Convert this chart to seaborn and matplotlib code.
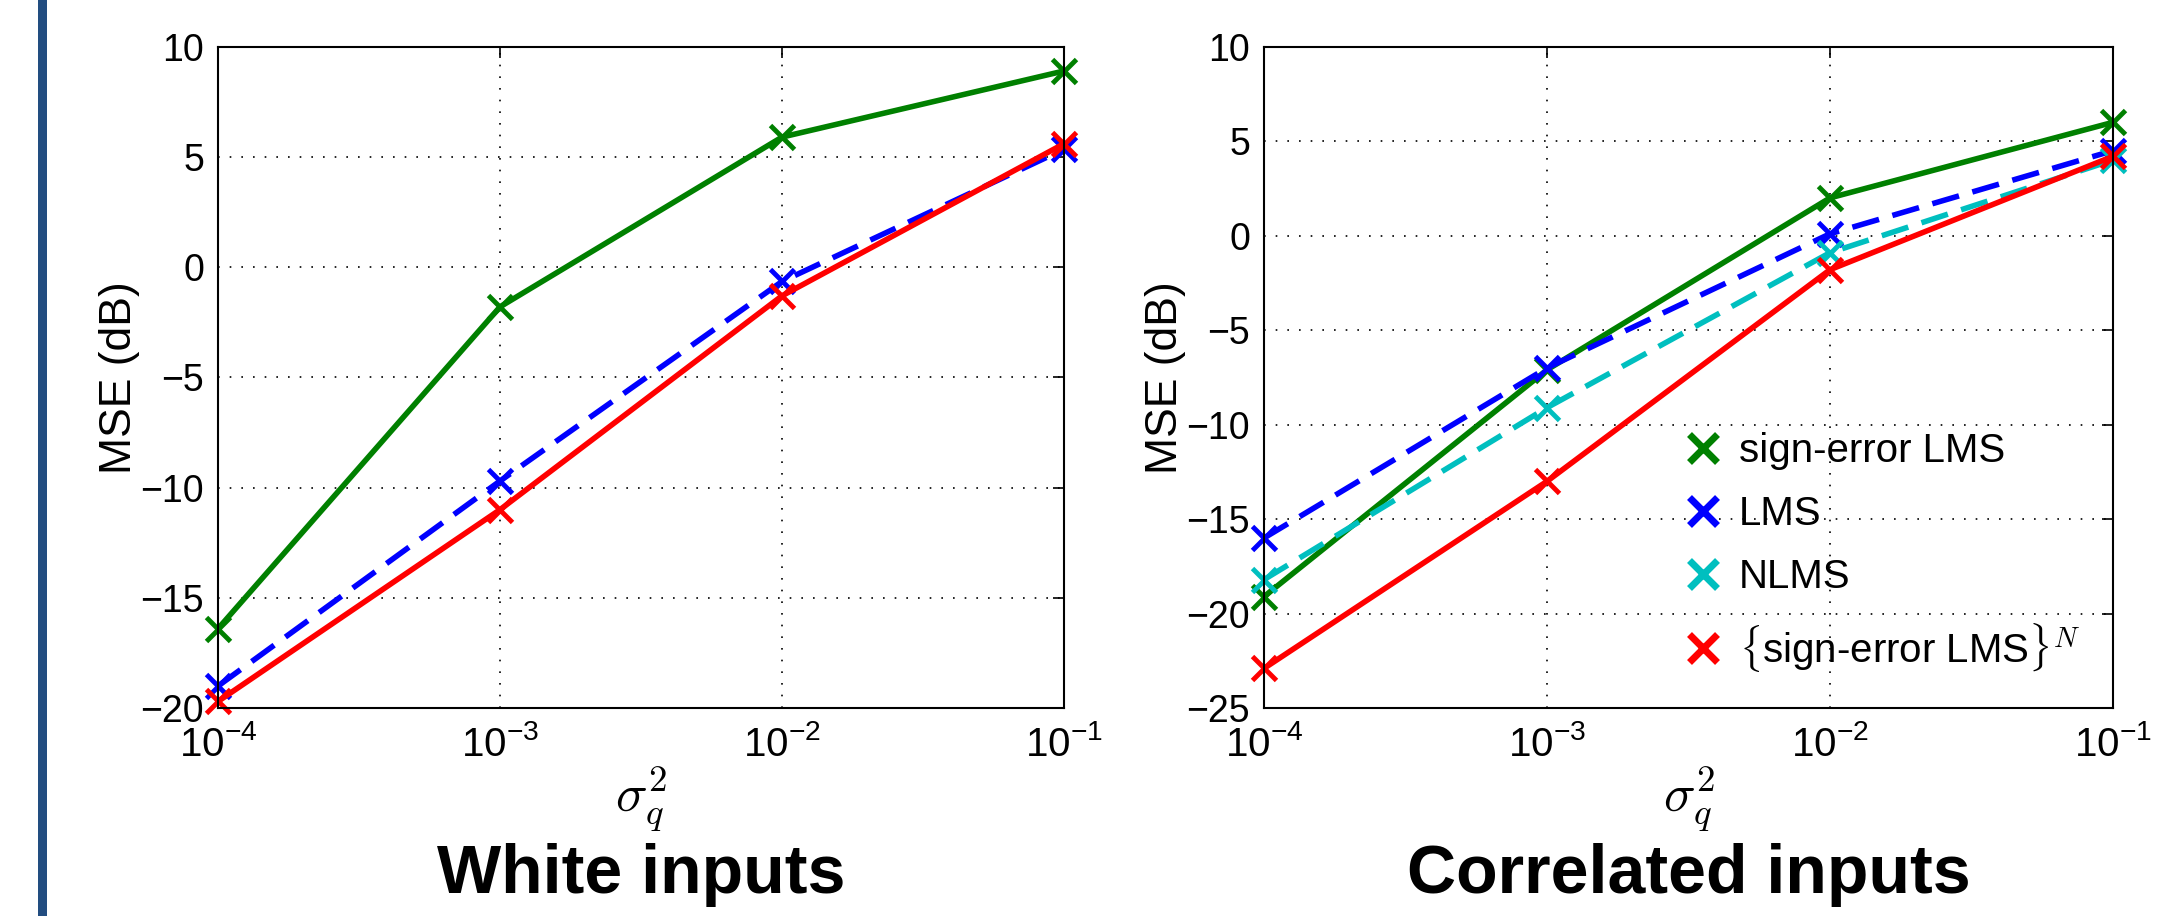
import numpy as np
import pandas as pd
import matplotlib
matplotlib.use("Agg")
import matplotlib.pyplot as plt
from matplotlib.patches import Rectangle
import seaborn as sns

# noise variance levels
sigma_q2 = [1e-4, 1e-3, 1e-2, 1e-1]
tick_labels = [r'$\mathregular{10^{-4}}$', r'$\mathregular{10^{-3}}$',
               r'$\mathregular{10^{-2}}$', r'$\mathregular{10^{-1}}$']

# White inputs (MSE in dB)
white_sign_error = [-16.4, -1.8, 5.9, 8.9]
white_lms = [-19.0, -9.7, -0.65, 5.35]
white_sign_error_n = [-19.7, -11.0, -1.3, 5.6]

# Correlated inputs (MSE in dB)
corr_sign_error = [-19.1, -7.1, 2.0, 6.0]
corr_lms = [-16.0, -7.0, 0.1, 4.5]
corr_nlms = [-18.2, -9.1, -0.9, 4.0]
corr_sign_error_n = [-22.9, -13.0, -1.8, 4.2]

sns.set_style("white")
plt.rcParams['font.family'] = ['Liberation Sans', 'DejaVu Sans']
plt.rcParams['mathtext.fontset'] = 'cm'
plt.rcParams['text.color'] = 'black'
plt.rcParams['axes.labelcolor'] = 'black'
plt.rcParams['xtick.color'] = 'black'
plt.rcParams['ytick.color'] = 'black'

styles = {
    'sign-error LMS': dict(color='#008000', ls='-'),
    'LMS': dict(color='#0000ff', ls='--'),
    'NLMS': dict(color='#00bfbf', ls='--'),
    r'$\{$sign-error LMS$\}^N$': dict(color='#ff0000', ls='-'),
}

fig = plt.figure(figsize=(21.67, 9.16), dpi=100)
fig.add_artist(Rectangle((38 / 2167, 0), 9 / 2167, 1, transform=fig.transFigure,
                         color='#224d80', lw=0))

ax1 = fig.add_axes([0.1006, 0.227, 0.3904, 0.722])
ax2 = fig.add_axes([0.5833, 0.227, 0.3918, 0.722])

panels = [
    (ax1, {'sign-error LMS': white_sign_error, 'LMS': white_lms,
           r'$\{$sign-error LMS$\}^N$': white_sign_error_n}, (-20, 10), 'White inputs'),
    (ax2, {'sign-error LMS': corr_sign_error, 'LMS': corr_lms, 'NLMS': corr_nlms,
           r'$\{$sign-error LMS$\}^N$': corr_sign_error_n}, (-25, 10), 'Correlated inputs'),
]

for ax, series, ylim, title in panels:
    for name, vals in series.items():
        st = styles[name]
        df = pd.DataFrame({'x': sigma_q2, 'mse': vals})
        sns.lineplot(data=df, x='x', y='mse', ax=ax, color=st['color'],
                     linestyle=st['ls'], lw=4, marker='x', markersize=17,
                     markeredgewidth=3.5, markeredgecolor=st['color'],
                     dashes=False, label=name, legend=False, clip_on=False)
        if st['ls'] == '--':
            ax.lines[-1].set_dashes([5, 2.5])
    ax.set_xscale('log')
    ax.set_xlim(1e-4, 1e-1)
    ax.set_ylim(*ylim)
    yt = np.arange(ylim[0], ylim[1] + 1, 5)
    ax.set_yticks(yt)
    ax.set_yticklabels([f'{v}'.replace('-', '\u2212') for v in yt])
    ax.set_xticks(sigma_q2)
    ax.set_xticklabels(tick_labels)
    ax.minorticks_off()
    ax.tick_params(axis='both', which='major', labelsize=27, direction='in',
                   length=8, width=1.2, top=True, right=True, pad=10)
    ax.tick_params(axis='x', labelsize=29, pad=12)
    ax.grid(True, ls=(0, (1, 6)), color='black', lw=1.2)
    for sp in ax.spines.values():
        sp.set_color('black')
        sp.set_linewidth(1.5)
    ax.set_ylabel('MSE (dB)', fontsize=32, labelpad=0)
    ax.set_xlabel(r'$\sigma_q^2$', fontsize=38, labelpad=0)
    ax.text(0.5, -0.252, title, transform=ax.transAxes, ha='center', va='center',
            fontsize=49, fontweight='bold')

leg = ax2.legend(loc='center left', bbox_to_anchor=(0.455, 0.235), frameon=False,
                 fontsize=29, handlelength=0.8, handletextpad=0.5, labelspacing=0.62)
for h in leg.legend_handles:
    h.set_linestyle('none')
    h.set_markersize(20)
    h.set_markeredgewidth(5)

fig.savefig('out.png', dpi=100)
